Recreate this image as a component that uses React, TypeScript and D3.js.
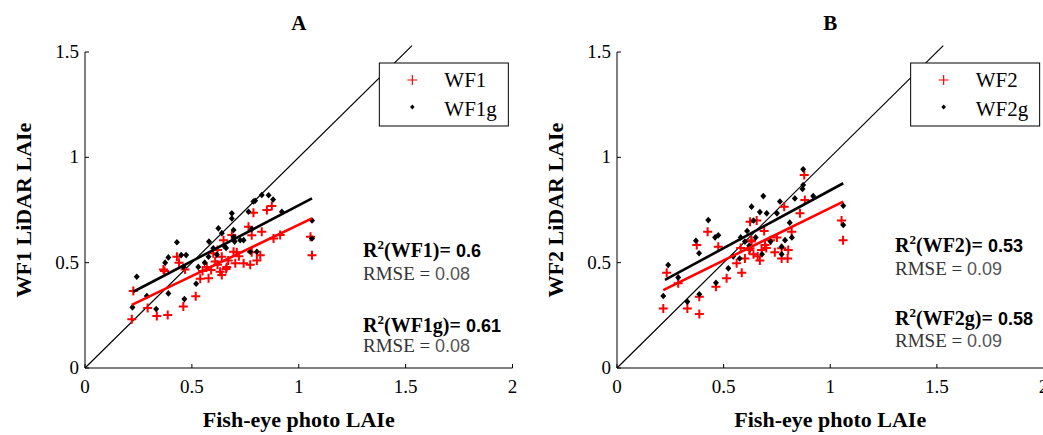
import React from 'react';
import * as d3 from 'd3';

const xTicks = [0, 0.5, 1, 1.5, 2];
const yTicks = [0, 0.5, 1, 1.5];
const xTickLabels = ['0', '0.5', '1', '1.5', '2'];
const yTickLabels = ['0', '0.5', '1', '1.5'];

// Panel A
const wf1: [number, number][] = [
  [0.219, 0.231], [0.226, 0.366], [0.293, 0.285], [0.336, 0.247], [0.387, 0.252], [0.46, 0.292],
  [0.518, 0.34], [0.367, 0.468], [0.372, 0.46], [0.43, 0.528], [0.44, 0.5], [0.468, 0.468],
  [0.539, 0.424], [0.578, 0.426], [0.57, 0.48], [0.59, 0.465], [0.609, 0.505], [0.6, 0.545],
  [0.632, 0.457], [0.64, 0.528], [0.663, 0.48], [0.67, 0.51], [0.695, 0.552], [0.703, 0.497],
  [0.687, 0.631], [0.648, 0.607], [0.71, 0.55], [0.765, 0.67], [0.788, 0.737], [0.827, 0.647],
  [0.78, 0.63], [0.742, 0.497], [0.773, 0.49], [0.804, 0.51], [0.82, 0.535], [0.78, 0.55],
  [0.851, 0.75], [0.874, 0.769], [0.913, 0.631], [0.882, 0.615], [1.055, 0.623], [1.062, 0.535],
  [0.55, 0.46], [0.62, 0.49], [0.72, 0.53], [0.62, 0.56], [0.64, 0.441], [0.66, 0.47],
];
const wf1g: [number, number][] = [
  [0.222, 0.288], [0.242, 0.433], [0.289, 0.342], [0.333, 0.28], [0.375, 0.5], [0.39, 0.525],
  [0.39, 0.354], [0.43, 0.597], [0.45, 0.536], [0.473, 0.536], [0.46, 0.48], [0.465, 0.327],
  [0.52, 0.4], [0.53, 0.48], [0.578, 0.528], [0.6, 0.568], [0.617, 0.537], [0.624, 0.663],
  [0.64, 0.64], [0.66, 0.57], [0.687, 0.734], [0.687, 0.71], [0.695, 0.655], [0.695, 0.623],
  [0.7, 0.6], [0.726, 0.607], [0.742, 0.607], [0.765, 0.742], [0.78, 0.66], [0.788, 0.79],
  [0.796, 0.794], [0.773, 0.552], [0.804, 0.552], [0.827, 0.821], [0.859, 0.82], [0.88, 0.8],
  [0.921, 0.742], [1.062, 0.7], [1.062, 0.615], [0.56, 0.5], [0.65, 0.58], [0.58, 0.6],
];
const fitWF1: [number, number][] = [[0.219, 0.3], [1.062, 0.71]];
const fitWF1g: [number, number][] = [[0.226, 0.362], [1.062, 0.805]];

// Panel B
const wf2: [number, number][] = [
  [0.217, 0.283], [0.233, 0.452], [0.287, 0.402], [0.33, 0.283], [0.386, 0.256], [0.386, 0.338],
  [0.374, 0.584], [0.425, 0.647], [0.464, 0.386], [0.475, 0.576], [0.514, 0.426], [0.561, 0.497],
  [0.585, 0.452], [0.6, 0.52], [0.624, 0.694], [0.655, 0.7], [0.64, 0.54], [0.67, 0.51],
  [0.678, 0.56], [0.7, 0.57], [0.62, 0.56], [0.66, 0.53], [0.772, 0.52], [0.784, 0.766],
  [0.858, 0.734], [0.819, 0.647], [0.631, 0.607], [0.694, 0.584], [0.72, 0.607], [0.624, 0.568],
  [0.772, 0.568], [0.803, 0.56], [0.8, 0.52], [0.881, 0.797], [0.878, 0.916], [1.053, 0.7],
  [1.06, 0.607], [0.75, 0.62], [0.69, 0.65], [0.74, 0.55], [0.58, 0.57], [0.63, 0.6],
];
const wf2g: [number, number][] = [
  [0.217, 0.342], [0.24, 0.489], [0.287, 0.43], [0.33, 0.315], [0.386, 0.35], [0.37, 0.604],
  [0.385, 0.545], [0.428, 0.702], [0.464, 0.405], [0.46, 0.62], [0.475, 0.63], [0.522, 0.473],
  [0.545, 0.53], [0.575, 0.52], [0.58, 0.62], [0.61, 0.65], [0.631, 0.766], [0.64, 0.7],
  [0.67, 0.74], [0.686, 0.816], [0.702, 0.734], [0.68, 0.54], [0.72, 0.6], [0.75, 0.734],
  [0.764, 0.79], [0.772, 0.575], [0.772, 0.54], [0.788, 0.607], [0.82, 0.62], [0.81, 0.69],
  [0.834, 0.805], [0.87, 0.85], [0.873, 0.943], [0.873, 0.869], [0.92, 0.816], [1.061, 0.77],
  [1.061, 0.679], [0.6, 0.6], [0.62, 0.58], [0.65, 0.62],
];
const fitWF2: [number, number][] = [[0.217, 0.37], [1.061, 0.79]];
const fitWF2g: [number, number][] = [[0.225, 0.418], [1.061, 0.877]];

const oneToOne: [number, number][] = [[0, 0], [1.53, 1.53]];

const SERIF = '"Liberation Serif", "Times New Roman", serif';
const SANS = '"Liberation Sans", Arial, sans-serif';

type PanelProps = {
  left: number;
  right: number;
  title: string;
  yLabel: string;
  red: [number, number][];
  black: [number, number][];
  fitRed: [number, number][];
  fitBlack: [number, number][];
  redName: string;
  blackName: string;
  r2Red: string;
  r2Black: string;
  rmseRed: string;
  rmseBlack: string;
  annX: number;
  annY: number[];
};

const plusPath = 'M-4.5,0H4.5M0,-4.5V4.5';
const diamond = 'M0,-3.3L3,0L0,3.3L-3,0Z';
const legDiamond = 'M0,-2.6L2.3,0L0,2.6L-2.3,0Z';

function Panel(p: PanelProps) {
  const x = d3.scaleLinear().domain([0, 2]).range([p.left, p.right]);
  const y = d3.scaleLinear().domain([0, 1.5]).range([368, 52]);
  const line = d3.line<[number, number]>().x(d => x(d[0])).y(d => y(d[1]));
  const cx = (p.left + p.right) / 2;
  const legX = x(1.377);
  const legW = 129;
  return (
    <g>
      <path d={line(oneToOne) as string} stroke="#000" strokeWidth={1.2} fill="none" />
      {p.red.map((d, i) => (
        <path key={'r' + i} d={plusPath} transform={`translate(${x(d[0])},${y(d[1])})`} stroke="#ff0000" strokeWidth={2} fill="none" />
      ))}
      {p.black.map((d, i) => (
        <path key={'b' + i} d={diamond} transform={`translate(${x(d[0])},${y(d[1])})`} fill="#000" />
      ))}
      <path d={line(p.fitRed) as string} stroke="#ff0000" strokeWidth={2.6} fill="none" />
      <path d={line(p.fitBlack) as string} stroke="#000" strokeWidth={2.6} fill="none" />
      {/* axes */}
      <line x1={p.left} x2={p.left} y1={y(1.5)} y2={y(0)} stroke="#000" strokeWidth={1} />
      <line x1={p.left} x2={p.right} y1={y(0)} y2={y(0)} stroke="#000" strokeWidth={1} />
      {xTicks.map((t, i) => (
        <g key={'xt' + i}>
          <line x1={x(t)} x2={x(t)} y1={y(0)} y2={y(0) - 4} stroke="#000" />
          <text x={x(t)} y={393} textAnchor="middle" fontFamily={SERIF} fontSize={19}>{xTickLabels[i]}</text>
        </g>
      ))}
      {yTicks.map((t, i) => (
        <g key={'yt' + i}>
          <line x1={p.left} x2={p.left + 4} y1={y(t)} y2={y(t)} stroke="#000" />
          <text x={p.left - 6} y={y(t) + 6} textAnchor="end" fontFamily={SERIF} fontSize={19}>{yTickLabels[i]}</text>
        </g>
      ))}
      <text x={cx} y={30} textAnchor="middle" fontFamily={SERIF} fontWeight="bold" fontSize={21}>{p.title}</text>
      <text x={cx} y={427} textAnchor="middle" fontFamily={SERIF} fontWeight="bold" fontSize={22}>Fish-eye photo LAIe</text>
      <text transform={`translate(${p.left - 54},210) rotate(-90)`} textAnchor="middle" fontFamily={SERIF} fontWeight="bold" fontSize={22}>{p.yLabel}</text>
      {/* legend */}
      <rect x={legX} y={63} width={legW} height={63} fill="#fff" stroke="#000" strokeWidth={1} />
      <path d="M-5,0H5M0,-5V5" transform={`translate(${legX + 33},80)`} stroke="#ff0000" strokeWidth={1.2} fill="none" />
      <text x={legX + 65} y={87} fontFamily={SERIF} fontSize={21}>{p.redName}</text>
      <path d={legDiamond} transform={`translate(${legX + 33},107)`} fill="#000" />
      <text x={legX + 65} y={116} fontFamily={SERIF} fontSize={21}>{p.blackName}</text>
      {/* annotations */}
      <text x={p.annX} y={p.annY[0]} fontFamily={SERIF} fontWeight="bold" fontSize={20}>
        R<tspan dy={-8} fontSize={13}>2</tspan><tspan dy={8}>({p.redName})= </tspan><tspan fontFamily={SANS} fontSize={18}>{p.r2Red}</tspan>
      </text>
      <text x={p.annX} y={p.annY[1]} fontFamily={SERIF} fontSize={19} fill="#333">
        RMSE = <tspan fontFamily={SANS} fontSize={18} fontWeight={300} fill="#555">{p.rmseRed}</tspan>
      </text>
      <text x={p.annX} y={p.annY[2]} fontFamily={SERIF} fontWeight="bold" fontSize={20}>
        R<tspan dy={-8} fontSize={13}>2</tspan><tspan dy={8}>({p.blackName})= </tspan><tspan fontFamily={SANS} fontSize={18}>{p.r2Black}</tspan>
      </text>
      <text x={p.annX} y={p.annY[3]} fontFamily={SERIF} fontSize={19} fill="#333">
        RMSE = <tspan fontFamily={SANS} fontSize={18} fontWeight={300} fill="#555">{p.rmseBlack}</tspan>
      </text>
    </g>
  );
}

export default function App() {
  return (
    <svg width={1043} height={435} style={{ position: 'absolute', left: 0, top: 0, background: '#fff' }}>
      <rect x={0} y={0} width={1043} height={435} fill="#fff" />
      <Panel left={85} right={512.5} title="A" yLabel="WF1 LiDAR LAIe" red={wf1} black={wf1g}
        fitRed={fitWF1} fitBlack={fitWF1g} redName="WF1" blackName="WF1g" r2Red="0.6" r2Black="0.61"
        rmseRed="0.08" rmseBlack="0.08" annX={363} annY={[257, 280, 332, 352]} />
      <Panel left={617} right={1043.5} title="B" yLabel="WF2 LiDAR LAIe" red={wf2} black={wf2g}
        fitRed={fitWF2} fitBlack={fitWF2g} redName="WF2" blackName="WF2g" r2Red="0.53" r2Black="0.58"
        rmseRed="0.09" rmseBlack="0.09" annX={895} annY={[252, 275, 325, 347]} />
    </svg>
  );
}
